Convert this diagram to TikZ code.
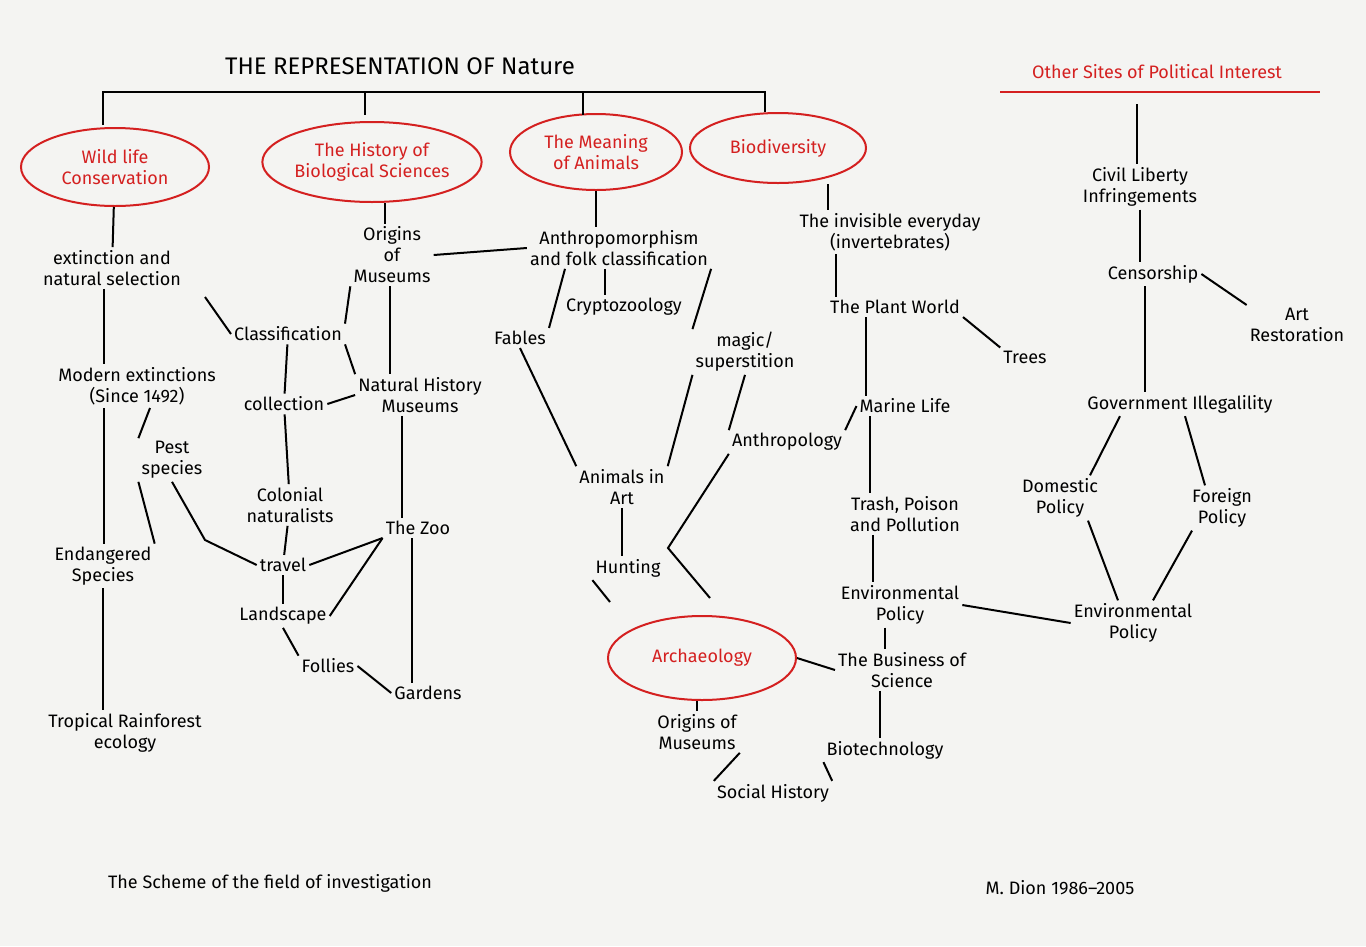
\documentclass[tikz,border=0pt]{standalone}
\usepackage{fontspec}
\setmainfont{Fira Sans}
\usetikzlibrary{shapes.geometric}
\definecolor{pen}{HTML}{D42020}
\definecolor{paper}{HTML}{F4F4F2}
\begin{document}
\begin{tikzpicture}[x=1pt,y=-1pt,
  t/.style={align=center,font=\fontsize{18}{21}\selectfont,inner sep=3pt},
  red/.style={t,text=pen},
  ell/.style={ellipse,draw=pen,line width=2pt,text=pen,align=center,font=\fontsize{18}{21}\selectfont,minimum width=#1,minimum height=78pt,inner sep=0pt},
  ln/.style={line width=2pt,black}]
\fill[paper] (0,0) rectangle (1366,946);
\useasboundingbox (0,0) rectangle (1366,946);
% title
\node[t,font=\fontsize{24}{26}\selectfont] (title) at (400,66) {THE REPRESENTATION OF Nature};
\coordinate (b1) at (103,92);\coordinate (b2) at (765,92);
\coordinate (b3) at (365,92);\coordinate (b4) at (583,92);
% red ovals
\node[ell=188pt] (wild) at (115,167) {Wild life\\Conservation};
\node[ell=198pt,minimum height=80pt] (hist) at (372,162) {The History of\\Biological Sciences};
\node[ell=172pt,minimum height=76pt] (mean) at (596,152) {The Meaning\\of Animals};
\node[ell=176pt,minimum height=70pt] (bio) at (778,148) {Biodiversity};
\node[ell=188pt,minimum height=84pt] (arch) at (702,658) {Archaeology};
\draw[ln] (103,125) -- (b1) -- (b2) -- (765,112);
\draw[ln] (b3) -- (365,115); \draw[ln] (b4) -- (583,115);
\node[red] (other) at (1157,72) {Other Sites of Political Interest};
\draw[pen,line width=2pt] (1000,92) -- (1320,92);
% column 1
\node[t] (ext) at (112,268) {extinction and\\natural selection};
\node[t] (mod) at (137,386) {Modern extinctions\\(Since 1492)};
\node[t] (pest) at (172,460) {Pest\\species};
\node[t] (end) at (103,566) {Endangered\\Species};
\node[t] (trop) at (125,733) {Tropical Rainforest\\ecology};
% column 2
\node[t] (orig) at (392,255) {Origins\\of\\Museums};
\node[t] (cls) at (288,334) {Classification};
\node[t] (col) at (284,404) {collection};
\node[t] (nhm) at (420,395) {Natural History\\Museums};
\node[t] (coln) at (290,505) {Colonial\\naturalists};
\node[t] (zoo) at (418,528) {The Zoo};
\node[t] (trav) at (283,565) {travel};
\node[t] (land) at (283,616) {Landscape};
\node[t] (fol) at (328,666) {Follies};
\node[t] (gard) at (428,693) {Gardens};
% column 3
\node[t] (anth) at (619,248) {Anthropomorphism\\and folk classification};
\node[t] (cry) at (624,307) {Cryptozoology};
\node[t] (fab) at (520,338) {Fables};
\node[t] (mag) at (745,352) {magic/\\superstition};
\node[t] (art) at (622,487) {Animals in\\Art};
\node[t] (apol) at (787,442) {Anthropology};
\node[t] (hunt) at (628,568) {Hunting};
\node[t] (orig2) at (697,732) {Origins of\\Museums};
\node[t] (soc) at (773,793) {Social History};
% column 4
\node[t] (inv) at (890,232) {The invisible everyday\\(invertebrates)};
\node[t] (plant) at (895,307) {The Plant World};
\node[t] (tree) at (1025,357) {Trees};
\node[t] (mar) at (905,406) {Marine Life};
\node[t] (trash) at (905,514) {Trash, Poison\\and Pollution};
\node[t] (env) at (900,605) {Environmental\\Policy};
\node[t] (bus) at (902,670) {The Business of\\Science};
\node[t] (biot) at (885,750) {Biotechnology};
% column 5
\node[t] (civ) at (1140,187) {Civil Liberty\\Infringements};
\node[t] (cen) at (1153,274) {Censorship};
\node[t] (artr) at (1297,325) {Art\\Restoration};
\node[t] (gov) at (1180,404) {Government Illegalility};
\node[t] (dom) at (1060,498) {Domestic\\Policy};
\node[t] (for) at (1222,508) {Foreign\\Policy};
\node[t] (env2) at (1133,623) {Environmental\\Policy};
% footer
\node[t] (foot1) at (270,883) {The Scheme of the field of investigation};
\node[t] (foot2) at (1060,888) {M. Dion 1986--2005};
% edges
\draw[ln] (wild) -- (ext);
\draw[ln] (ext.south -| 104,0) -- (mod.north -| 104,0);
\draw[ln] (205,297) -- (cls.west);
\draw[ln] (mod.south -| 104,0) -- (end.north -| 104,0);
\draw[ln] (mod.south -| 150,0) -- (pest.north west);
\draw[ln] (pest.south west) -- (end.north east);
\draw[ln] (pest.south) -- (205,540) -- (trav.west);
\draw[ln] (end.south) -- (trop.north -| end.south);
\draw[ln] (hist.south -| 385,0) -- (orig.north -| 385,0);
\draw[ln] (orig.south west) -- (cls.north east);
\draw[ln] (orig.south -| 390,0) -- (nhm.north -| 390,0);
\draw[ln] (orig.east) -- (anth.west);
\draw[ln] (cls) -- (col);
\draw[ln] (cls.south east) -- (nhm.north west);
\draw[ln] (col.east) -- (nhm.west);
\draw[ln] (nhm.south -| 402,0) -- (zoo.north -| 402,0);
\draw[ln] (col) -- (coln);
\draw[ln] (coln) -- (trav);
\draw[ln] (zoo.south west) -- (trav.east);
\draw[ln] (zoo.south west) -- (land.east);
\draw[ln] (trav) -- (land);
\draw[ln] (land.south) -- (fol.north west);
\draw[ln] (fol.east) -- (gard.west);
\draw[ln] (zoo.south -| 412,0) -- (gard.north -| 412,0);
\draw[ln] (mean) -- (anth.north -| mean);
\draw[ln] (anth.south -| 565,0) -- (fab.north east);
\draw[ln] (anth.south -| 605,0) -- (cry.north -| 605,0);
\draw[ln] (anth.south east) -- (mag.north west);
\draw[ln] (fab.south) -- (art.north west);
\draw[ln] (mag.south west) -- (art.north east);
\draw[ln] (mag.south) -- (apol.north west);
\draw[ln] (art) -- (hunt.north -| art);
\draw[ln] (apol.south west) -- (668,548) -- (710,598);
\draw[ln] (hunt.south west) -- (610,602);
\draw[ln] (arch.east) -- (bus.west);
\draw[ln] (arch.south -| 697,0) -- (orig2.north);
\draw[ln] (orig2.south east) -- (soc.north west);
\draw[ln] (biot.south west) -- (soc.north east);
\draw[ln] (bio.south -| 828,0) -- (inv.north -| 828,0);
\draw[ln] (inv.south -| 836,0) -- (plant.north -| 836,0);
\draw[ln] (plant.south east) -- (tree.north west);
\draw[ln] (plant.south -| 866,0) -- (mar.north -| 866,0);
\draw[ln] (mar.west) -- (apol.north east);
\draw[ln] (mar.south -| 870,0) -- (trash.north -| 870,0);
\draw[ln] (trash.south -| 873,0) -- (env.north -| 873,0);
\draw[ln] (env.south -| 885,0) -- (bus.north -| 885,0);
\draw[ln] (bus.south -| 880,0) -- (biot.north -| 880,0);
\draw[ln] (env.east) -- (env2.west);
\draw[ln] (other.south -| 1137,0) ++(0,22) -- (civ.north -| 1137,0);
\draw[ln] (civ.south -| 1140,0) -- (cen.north -| 1140,0);
\draw[ln] (cen.east) -- (artr.north west);
\draw[ln] (cen.south -| 1145,0) -- (gov.north -| 1145,0);
\draw[ln] (gov.south -| 1120,0) -- (dom.north -| 1090,0);
\draw[ln] (gov.south -| 1185,0) -- (for.north -| 1205,0);
\draw[ln] (dom.south -| 1088,0) -- (env2.north -| 1118,0);
\draw[ln] (for.south -| 1192,0) -- (env2.north -| 1153,0);
\end{tikzpicture}
\end{document}
